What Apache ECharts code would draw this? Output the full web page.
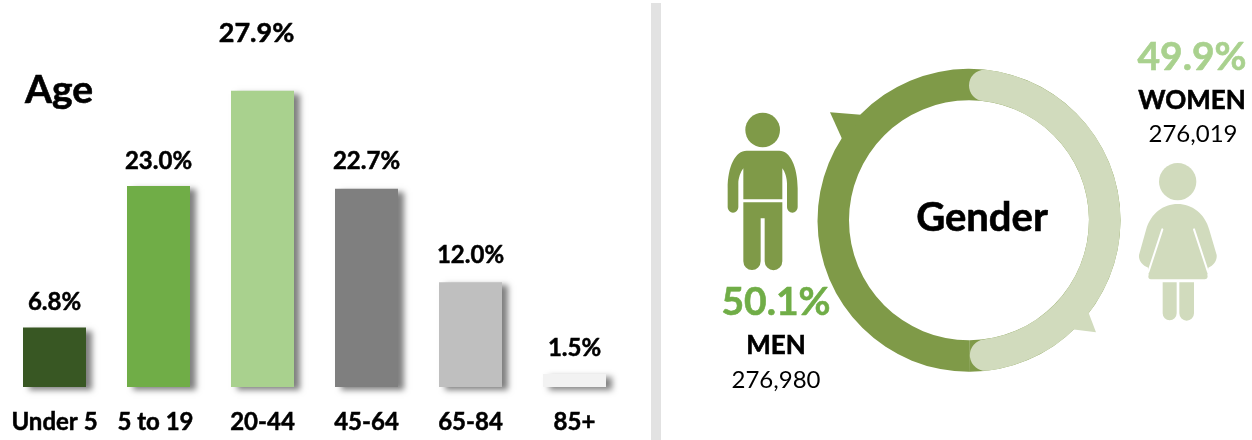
<!DOCTYPE html>
<html><head><meta charset="utf-8">
<style>html,body{margin:0;padding:0;background:#fff}#c{width:1252px;height:440px}</style>
<script src="https://cdn.jsdelivr.net/npm/echarts@6/dist/echarts.min.js"></script>
</head><body><div id="c"></div>
<script>
const ageCategories = ['Under 5', '5 to 19', '20-44', '45-64', '65-84', '85+'];
const agePercentLabels = ['6.8%', '23.0%', '27.9%', '22.7%', '12.0%', '1.5%'];
// Bar lengths as drawn: the 20-44 bar stands taller in the reference than its 27.9% label implies.
const ageBarLengths = [6.8, 23.0, 33.9, 22.7, 12.0, 1.5];
const ageColors = ['#385723', '#70AD47', '#A9D18E', '#7F7F7F', '#BFBFBF', '#F2F2F2'];
const labelDistances = [13, 13, 44, 15, 15, 14];
const genderNames = ['WOMEN', 'MEN'];
const genderShares = [49.9, 50.1];
const genderCounts = ['276,019', '276,980'];
const FONT = 'Lato, Carlito, "Open Sans", sans-serif';
const MAN = '#7F9A48', WOMAN = '#D1DBBD';

const reg = (name, d) => echarts.graphic.registerShape(name, echarts.graphic.extendPath(d));
reg('manTop', 'M140 152 L238 152 C270 152 293 200 293 265 L293 322 A16 16 0 0 1 261 322 L261 250 C261 235 255 215 247 205 L247 298 L130 298 L130 205 C122 215 115 235 115 250 L115 322 A16 16 0 0 1 83 322 L83 265 C83 200 106 152 140 152 Z');
reg('manLegs', 'M130 307 L247 307 L247 484 A26 26 0 0 1 194 484 L194 355 L182 355 L182 484 A26 26 0 0 1 130 484 Z');
reg('womanBody', 'M173 162 C215 162 255 190 268 240 L290 315 C292 332 280 347 265 353 L262 375 C265 383 260 388 252 388 L95 388 C87 388 83 383 86 375 L85 353 C68 347 55 332 57 315 L78 240 C92 190 130 162 173 162 Z');
reg('womanSlits', 'M127 238 L85 366 M222 238 L264 366');
reg('womanLegs', 'M128 397 L170 397 L170 490 A21 21 0 0 1 128 490 Z M178 397 L222 397 L222 490 A22 22 0 0 1 178 490 Z');

const txt = (x, y, text, size, weight, fill) => ({
  type: 'text', x, y, silent: true, z: 10,
  style: { text, x: 0, y: 0, font: `${weight} ${size}px ${FONT}`, fill, textAlign: 'center', textVerticalAlign: 'middle',
    stroke: weight === 'bold' ? fill : null, lineWidth: weight === 'bold' ? 0.6 : 0 }
});

const chart = echarts.init(document.getElementById('c'), null, { renderer: 'canvas' });
chart.setOption({
  animation: false,
  backgroundColor: '#fff',
  grid: { left: 2.5, width: 624, top: 0, height: 387 },
  xAxis: {
    type: 'category',
    data: ageCategories.map((c, i) => i === 1 ? { value: c, textStyle: { padding: [0, 6, 0, 0] } } : c),
    axisLine: { show: false }, axisTick: { show: false },
    axisLabel: { interval: 0, margin: 23, fontFamily: FONT, fontSize: 24, fontWeight: 'bold', color: '#000', textBorderColor: '#000', textBorderWidth: 0.5 }
  },
  yAxis: { type: 'value', min: 0, max: 44.3, show: false },
  series: [
    {
      type: 'bar', barWidth: 63, silent: true,
      data: ageBarLengths.map((v, i) => ({
        value: v,
        itemStyle: { color: ageColors[i], shadowColor: 'rgba(0,0,0,0.5)', shadowBlur: 6, shadowOffsetX: 6, shadowOffsetY: 3 },
        label: {
          show: true, position: 'top', distance: labelDistances[i],
          offset: i === 2 ? [-6, 0] : [0, 0],
          formatter: agePercentLabels[i],
          fontFamily: FONT, fontSize: i === 2 ? 27 : 24, fontWeight: 'bold', color: '#000', textBorderColor: '#000', textBorderWidth: 0.5
        }
      }))
    },
    {
      type: 'pie', silent: true, center: [969, 220.3], radius: [120, 151.5], startAngle: 90,
      label: { show: false }, labelLine: { show: false }, z: 2,
      data: genderShares.map((v, i) => ({ value: v, name: genderNames[i], itemStyle: { color: MAN } }))
    },
    {
      type: 'pie', silent: true, center: [969, 220.3], radius: [120, 151.5], startAngle: 90,
      label: { show: false }, labelLine: { show: false }, z: 3,
      data: genderShares.map((v, i) => ({
        value: v, name: genderNames[i],
        itemStyle: i === 0 ? { color: WOMAN, borderRadius: 16 } : { color: 'rgba(0,0,0,0)' }
      }))
    }
  ],
  graphic: { elements: [
    { type: 'rect', shape: { x: 651, y: 3, width: 10, height: 437 }, style: { fill: '#E2E2E2' }, silent: true },
    txt(59, 90, 'Age', 39, 'bold', '#000'),
    txt(982, 218, 'Gender', 40, 'bold', '#000'),
    txt(1192, 57, genderShares[0].toFixed(1) + '%', 39, 'bold', '#A9D18E'),
    txt(1192, 101, genderNames[0], 26, 'bold', '#000'),
    txt(1193, 134, genderCounts[0], 24, 'normal', '#000'),
    txt(776, 302, genderShares[1].toFixed(1) + '%', 39, 'bold', '#70AD47'),
    txt(776, 346, genderNames[1], 26, 'bold', '#000'),
    txt(776, 380, genderCounts[1], 24, 'normal', '#000'),
    { type: 'polygon', shape: { points: [[830, 112.3], [864, 115], [843, 141]] }, style: { fill: MAN }, silent: true, z: 5 },
    { type: 'polygon', shape: { points: [[1088.3, 312], [1096, 332.3], [1072, 329.3]] }, style: { fill: WOMAN }, silent: true, z: 5 },
    { type: 'group', x: 700, y: 100, scaleX: 1/3, scaleY: 1/3, silent: true, children: [
      { type: 'circle', shape: { cx: 188, cy: 90, r: 52 }, style: { fill: MAN } },
      { type: 'manTop', style: { fill: MAN } },
      { type: 'manLegs', style: { fill: MAN } }
    ] },
    { type: 'group', x: 1120, y: 150, scaleX: 1/3, scaleY: 1/3, silent: true, children: [
      { type: 'circle', shape: { cx: 173, cy: 95, r: 56 }, style: { fill: WOMAN } },
      { type: 'womanBody', style: { fill: WOMAN } },
      { type: 'womanSlits', style: { stroke: '#fff', lineWidth: 6, lineCap: 'round', fill: 'none' } },
      { type: 'womanLegs', style: { fill: WOMAN } }
    ] }
  ] }
});
</script></body></html>
